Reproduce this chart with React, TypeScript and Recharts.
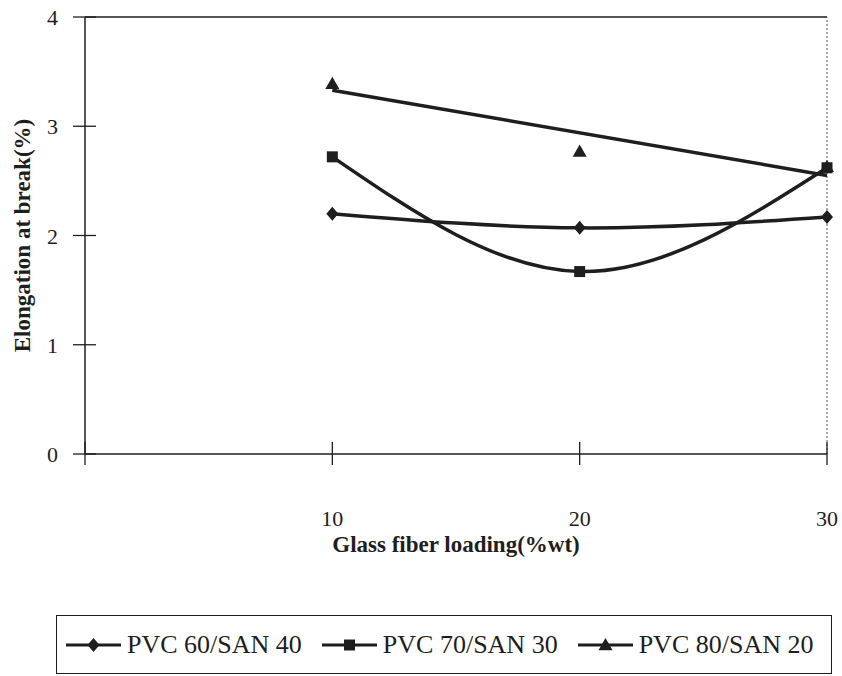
import React from 'react';
import { ComposedChart, Line, XAxis, YAxis, Legend, ReferenceLine } from 'recharts';

const LOADING = [10, 20, 30];
const PVC60_SAN40 = [2.2, 2.07, 2.17];
const PVC70_SAN30 = [2.72, 1.67, 2.62];
const PVC80_SAN20 = [3.39, 2.77, 2.63];
const PVC80_TREND = [3.33, null, 2.55];

const X_TICKS = [0, 10, 20, 30];
const Y_TICKS = [0, 1, 2, 3, 4];

const INK = '#1e1e1e';
const FONT = '"Liberation Serif", "Times New Roman", serif';

const DATA = LOADING.map((x, i) => ({
  x,
  pvc60: PVC60_SAN40[i],
  pvc70: PVC70_SAN30[i],
  pvc80: PVC80_SAN20[i],
  trend80: PVC80_TREND[i],
}));

const diamond = (cx: number, cy: number, r = 7) =>
  `M${cx},${cy - r}L${cx + r - 1},${cy}L${cx},${cy + r}L${cx - r + 1},${cy}Z`;
const square = (cx: number, cy: number, r = 5.5) =>
  `M${cx - r},${cy - r}h${2 * r}v${2 * r}h${-2 * r}Z`;
const triangle = (cx: number, cy: number, r = 7) =>
  `M${cx},${cy - r}L${cx + r},${cy + r * 0.75}L${cx - r},${cy + r * 0.75}Z`;

const SHAPES: Record<string, (cx: number, cy: number) => string> = {
  pvc60: diamond,
  pvc70: square,
  pvc80: triangle,
};

const makeDot = (key: string) => (p: any) => {
  if (p.cx == null || p.cy == null || p.value == null) return <g key={`${key}-${p.index}`} />;
  return <path key={`${key}-${p.index}`} d={SHAPES[key](p.cx, p.cy)} fill={INK} />;
};

const XTick = ({ x, y, payload }: any) => (
  <g>
    <line x1={x} x2={x} y1={y - 12} y2={y + 11} stroke={INK} strokeWidth={1.3} />
    {payload.value !== 0 && (
      <text x={x} y={y + 72} textAnchor="middle" fontSize={22} fontFamily={FONT} fill={INK}>
        {payload.value}
      </text>
    )}
  </g>
);

const YTick = ({ x, y, payload }: any) => (
  <g>
    <line x1={x - 12} x2={x + 11} y1={y} y2={y} stroke={INK} strokeWidth={1.3} />
    <text x={x - 27} y={y + 8} textAnchor="end" fontSize={22} fontFamily={FONT} fill={INK}>
      {payload.value}
    </text>
  </g>
);

const LegendBox = ({ payload }: any) => {
  const items = (payload || [])
    .map((entry: any) => ({ key: String(entry.dataKey ?? entry.payload?.dataKey ?? ''), value: entry.value }))
    .filter((it: any) => SHAPES[it.key]);
  return (
    <div
      style={{
        boxSizing: 'border-box',
        width: 776,
        height: 59,
        border: `1.5px solid ${INK}`,
        display: 'flex',
        alignItems: 'center',
        paddingLeft: 9,
        fontFamily: FONT,
        fontSize: 26,
        color: INK,
        background: '#fff',
      }}
    >
      {items.map((it: any) => (
        <div key={it.key} style={{ display: 'flex', alignItems: 'center', marginRight: 20 }}>
          <svg width={55} height={20}>
            <line x1={0} x2={55} y1={10} y2={10} stroke={INK} strokeWidth={3} />
            <path d={SHAPES[it.key](27.5, 10)} fill={INK} />
          </svg>
          <span style={{ marginLeft: 6, whiteSpace: 'nowrap' }}>{it.value}</span>
        </div>
      ))}
    </div>
  );
};

export default function App() {
  return (
    <div style={{ position: 'absolute', left: 0, top: 0, background: '#fff' }}>
      <ComposedChart width={842} height={676} data={DATA} margin={{ top: 17, right: 15, left: 0, bottom: 0 }}>
        <XAxis
          type="number"
          dataKey="x"
          domain={[0, 30]}
          ticks={X_TICKS}
          height={222}
          tickSize={0}
          tickMargin={0}
          tickLine={false}
          tick={<XTick />}
          axisLine={{ stroke: INK, strokeWidth: 1.5 }}
          label={{
            value: 'Glass fiber loading(%wt)',
            position: 'insideTop',
            offset: 82,
            fontSize: 23,
            fontWeight: 'bold',
            fontFamily: FONT,
            fill: INK,
          }}
        />
        <YAxis
          type="number"
          domain={[0, 4]}
          ticks={Y_TICKS}
          width={85}
          tickSize={0}
          tickMargin={0}
          tickLine={false}
          tick={<YTick />}
          axisLine={{ stroke: INK, strokeWidth: 1.5 }}
          label={{
            value: 'Elongation at break(%)',
            angle: -90,
            position: 'insideLeft',
            offset: 22,
            textAnchor: 'middle',
            fontSize: 23,
            fontWeight: 'bold',
            fontFamily: FONT,
            fill: INK,
          }}
        />
        <ReferenceLine y={4} stroke={INK} strokeWidth={1.3} />
        <ReferenceLine x={30} stroke="#555" strokeWidth={1} strokeDasharray="2 2" />
        <Legend
          layout="vertical"
          align="center"
          verticalAlign="middle"
          wrapperStyle={{ left: 56, top: 615, width: 776, height: 59 }}
          content={<LegendBox />}
        />
        <Line
          dataKey="pvc60"
          name="PVC 60/SAN 40"
          type="natural"
          stroke={INK}
          strokeWidth={3.5}
          dot={makeDot('pvc60')}
          activeDot={false}
          isAnimationActive={false}
        />
        <Line
          dataKey="pvc70"
          name="PVC 70/SAN 30"
          type="natural"
          stroke={INK}
          strokeWidth={3.5}
          dot={makeDot('pvc70')}
          activeDot={false}
          isAnimationActive={false}
        />
        <Line
          dataKey="pvc80"
          name="PVC 80/SAN 20"
          stroke="none"
          dot={makeDot('pvc80')}
          activeDot={false}
          isAnimationActive={false}
        />
        <Line
          dataKey="trend80"
          type="linear"
          connectNulls
          legendType="none"
          stroke={INK}
          strokeWidth={3.5}
          dot={false}
          activeDot={false}
          isAnimationActive={false}
        />
      </ComposedChart>
    </div>
  );
}
